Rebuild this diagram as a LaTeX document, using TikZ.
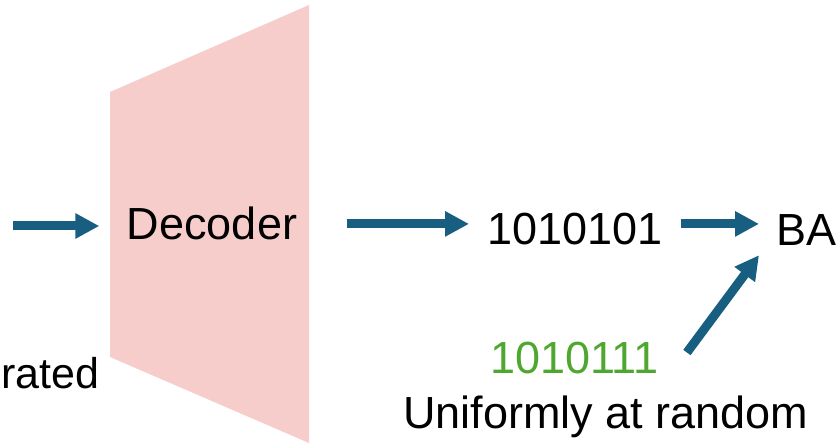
\documentclass[tikz,border=0pt]{standalone}
\usepackage{fontspec}
\setmainfont{Liberation Sans}
\usetikzlibrary{arrows.meta,calc}
\definecolor{arrowblue}{RGB}{24,94,128}
\definecolor{decpink}{RGB}{247,205,204}
\definecolor{bitgreen}{RGB}{78,167,46}

\begin{document}
\begin{tikzpicture}[x=1pt,y=-1pt]
	\tikzstyle{lbl}=[inner sep=0pt,font=\fontsize{45}{52}\selectfont]
	\tikzstyle{arr}=[draw=arrowblue,line width=9pt,-{Triangle[length=24pt,width=24pt]}]

	\useasboundingbox (0,0) rectangle (838,446);

	% decoder block
	\fill[decpink] (110,92) -- (309,5) -- (309,443) -- (110,357) -- cycle;

	\node [lbl,anchor=base,minimum width=199pt] (dec) at (212,240) {Decoder};
	\node [lbl,anchor=base west] (code) at (487,245) {1010101};
	\node [lbl,anchor=base west] (ba) at (776,246) {BA};
	\node [lbl,anchor=base west,text=bitgreen] (rand) at (490,373) {1010111};
	\node [lbl,anchor=base] (unif) at (606,428) {Uniformly at random};
	\node [lbl,anchor=base west,font=\fontsize{43}{50}\selectfont] (gen) at (1,388) {rated};
	\coordinate (in) at (13,226);

	\path[arr,shorten >=13pt] (in) -- (dec.west |- in);
	\path[arr,shorten <=35pt,shorten >=18pt] (dec.east) -- (code.west |- dec.east);
	\path[arr,shorten <=18pt,shorten >=17pt] (code.east |- dec.east) -- (ba.west |- dec.east);
	\path[arr] ($(rand.east)+(28,-5)$) -- ($(ba.south west)+(-17,9)$);

\end{tikzpicture}
\end{document}
